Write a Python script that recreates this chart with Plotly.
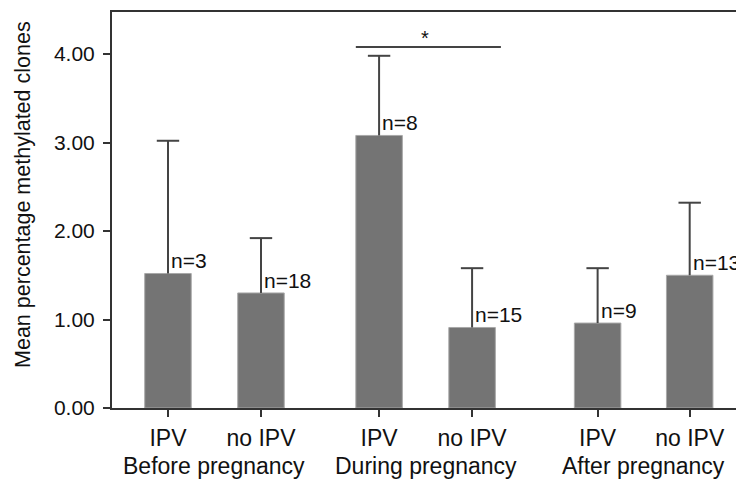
import plotly.graph_objects as go

# ---- data ----
conditions = ["IPV", "no IPV", "IPV", "no IPV", "IPV", "no IPV"]
periods = ["Before pregnancy", "During pregnancy", "After pregnancy"]
means = [1.52, 1.30, 3.08, 0.91, 0.96, 1.50]
upper = [3.02, 1.92, 3.98, 1.58, 1.58, 2.32]
n_labels = ["n=3", "n=18", "n=8", "n=15", "n=9", "n=13"]
y_title = "Mean percentage methylated clones"
sig_y = 4.08

# ---- layout positions ----
xpos = [0, 1, 2.27, 3.27, 4.62, 5.61]
err = [u - m for u, m in zip(upper, means)]

FONT = "Liberation Sans, Arial, sans-serif"
TXT = "#111111"
AX = "#333333"

fig = go.Figure()
fig.add_trace(go.Bar(
    x=xpos, y=means, width=0.5,
    marker=dict(color="#747474", line=dict(color="#a8a8a8", width=1)),
    error_y=dict(type="data", symmetric=False, array=err,
                 arrayminus=[0] * len(err), width=0, thickness=2, color="#444444"),
    showlegend=False, hoverinfo="skip",
))
# error bar caps
fig.add_trace(go.Scatter(
    x=xpos, y=upper, mode="markers",
    marker=dict(symbol="line-ew", size=16, line=dict(color="#444444", width=2)),
    showlegend=False, hoverinfo="skip", cliponaxis=False,
))

annotations = []
for x, m, t in zip(xpos, means, n_labels):
    annotations.append(dict(x=x, y=m, text=t, showarrow=False, xanchor="left",
                            yanchor="bottom", xshift=1, yshift=-1,
                            font=dict(family=FONT, size=21, color=TXT)))
for i, p in enumerate(periods):
    annotations.append(dict(x=(xpos[2 * i] + xpos[2 * i + 1]) / 2, y=0, xref="x", yref="paper",
                            text=p, showarrow=False, yanchor="middle", yshift=-58,
                            font=dict(family=FONT, size=23, color=TXT)))
annotations.append(dict(x=(xpos[2] + xpos[3]) / 2 - 0.01, y=sig_y, text="*", showarrow=False,
                        yanchor="bottom", yshift=-4,
                        font=dict(family=FONT, size=20, color=TXT)))
# y-axis title
annotations.append(dict(x=0, y=0.538, xref="paper", yref="paper", text=y_title,
                        textangle=-90, showarrow=False, xanchor="center", yanchor="middle",
                        xshift=-89, font=dict(family=FONT, size=21.5, color=TXT)))

fig.add_shape(type="line", x0=xpos[2] - 0.25, x1=xpos[3] + 0.31, y0=sig_y, y1=sig_y,
              line=dict(color="#444444", width=2))

fig.update_layout(
    width=736, height=482,
    margin=dict(l=112, r=0, t=12, b=74),
    paper_bgcolor="white", plot_bgcolor="white",
    font=dict(family=FONT, size=22, color=TXT),
    annotations=annotations,
    xaxis=dict(range=[-0.602, 6.108], tickmode="array", tickvals=xpos, ticktext=conditions,
               showline=True, linecolor=AX, linewidth=2, mirror=True,
               ticks="outside", ticklen=7, tickwidth=2, tickcolor=AX,
               showgrid=False, zeroline=False, tickfont=dict(size=23),
               ticklabelstandoff=1),
    yaxis=dict(range=[0, 4.475], tickvals=[0, 1, 2, 3, 4], tickformat=".2f",
               showline=True, linecolor=AX, linewidth=2,
               ticks="outside", ticklen=7, tickwidth=2, tickcolor=AX,
               showgrid=False, zeroline=False, tickfont=dict(size=21),
               ticklabelstandoff=4),
)

fig.write_html("out.html", config={"displayModeBar": False},
               post_script="document.body.style.margin='0';document.body.style.overflow='hidden';")
